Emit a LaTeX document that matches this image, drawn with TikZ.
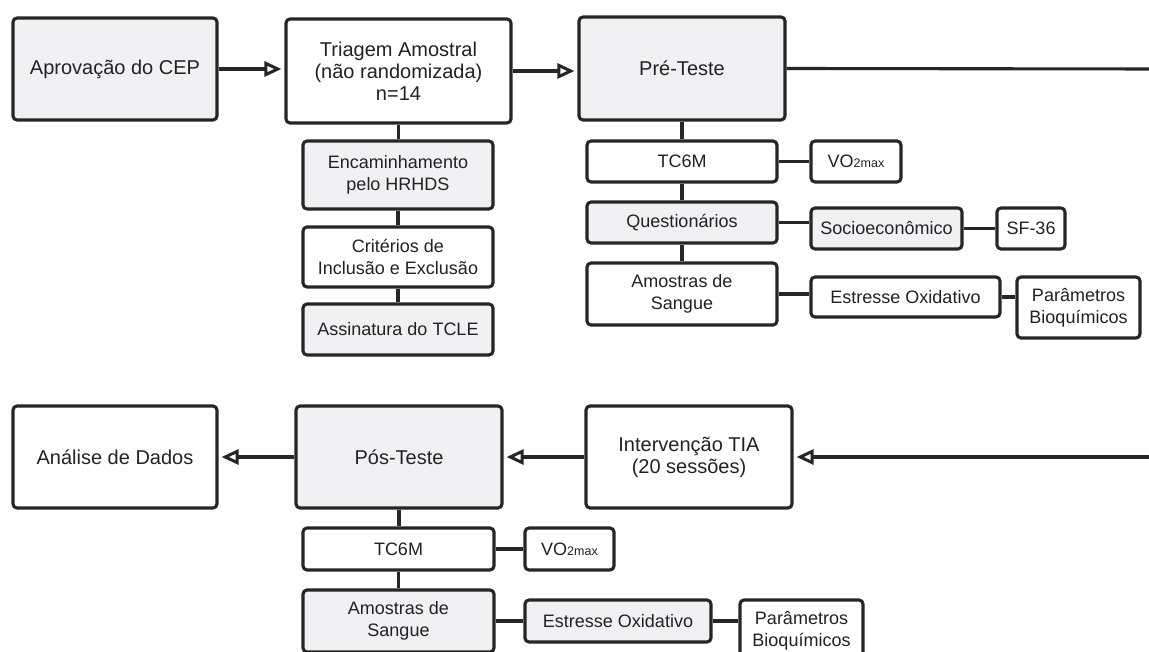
\documentclass[tikz,border=0pt]{standalone}
\usepackage{fontspec}
\setmainfont{Liberation Sans}
\usetikzlibrary{arrows.meta}
\definecolor{edge}{HTML}{262626}
\definecolor{boxgray}{HTML}{F1F1F3}
\definecolor{txt}{HTML}{222222}
\newcommand{\vomax}{VO{\fontsize{12.5}{12.5}\selectfont 2max}}
\begin{document}
\begin{tikzpicture}[x=1pt,y=-1pt,
  box/.style={draw=edge, line width=3.1pt, rounded corners=4pt, text=txt, align=center, inner sep=0pt},
  gbox/.style={box, fill=boxgray},
  wbox/.style={box, fill=white},
  big/.style={font=\fontsize{20}{22}\selectfont},
  small/.style={font=\fontsize{18}{22}\selectfont},
  link/.style={draw=edge, line width=3.1pt},
  arr/.style={link, -{Triangle[open, length=17pt, width=15pt, line width=3pt]}, shorten >=3pt}
]
\useasboundingbox (0,0) rectangle (1149,652);
\clip (0,0) rectangle (1149,652);
\fill[white] (0,0) rectangle (1149,652);

% top row
\node[gbox, big, minimum width=204, minimum height=102] (cep) at (115,69) {Aprovação do CEP};
\node[wbox, big, minimum width=225, minimum height=104] (tri) at (398.5,71) {Triagem Amostral\\(não randomizada)\\n=14};
\node[gbox, big, minimum width=206, minimum height=103] (pre) at (682,68.5) {Pré-Teste};
\coordinate (edgeTop) at (1160,69);

% Triagem column
\node[gbox, small, minimum width=190, minimum height=68] (enc) at (398,175) {Encaminhamento\\pelo HRHDS};
\node[wbox, small, minimum width=190, minimum height=60] (cri) at (398,257) {Critérios de\\Inclusão e Exclusão};
\node[gbox, small, minimum width=190, minimum height=51] (ass) at (398,329.5) {Assinatura do TCLE};

% Pre-Teste column
\node[wbox, small, minimum width=190, minimum height=41] (tc1) at (682,161.5) {TC6M};
\node[wbox, small, minimum width=90, minimum height=41] (vo1) at (856,161.5) {\vomax};
\node[gbox, small, minimum width=190, minimum height=41] (que) at (682,222.5) {Questionários};
\node[gbox, small, minimum width=151, minimum height=41] (soc) at (886.5,228.5) {Socioeconômico};
\node[wbox, small, minimum width=68, minimum height=41] (sf) at (1031,228.5) {SF-36};
\node[wbox, small, minimum width=190, minimum height=62] (am1) at (682,294) {Amostras de\\Sangue};
\node[wbox, small, minimum width=189, minimum height=40] (es1) at (905.5,297) {Estresse Oxidativo};
\node[wbox, small, minimum width=123, minimum height=61] (pa1) at (1078.5,307.5) {Parâmetros\\Bioquímicos};

% bottom row
\node[wbox, big, minimum width=204, minimum height=102] (ana) at (115,457) {Análise de Dados};
\node[gbox, big, minimum width=206, minimum height=102] (pos) at (399,457) {Pós-Teste};
\node[wbox, big, minimum width=206, minimum height=102] (int) at (689,457) {Intervenção TIA\\(20 sessões)};
\coordinate (edgeBot) at (1160,457);

% Pos-Teste column
\node[wbox, small, minimum width=191, minimum height=42] (tc2) at (398.5,549) {TC6M};
\node[wbox, small, minimum width=89, minimum height=42] (vo2) at (569.5,549) {\vomax};
\node[gbox, small, minimum width=191, minimum height=62] (am2) at (398.5,621) {Amostras de\\Sangue};
\node[gbox, small, minimum width=186, minimum height=42] (es2) at (618,621) {Estresse Oxidativo};
\node[wbox, small, minimum width=123, minimum height=61] (pa2) at (801.5,630.5) {Parâmetros\\Bioquímicos};

% arrows top
\draw[arr] (cep.east) -- (cep.east -| tri.west);
\draw[arr] (tri.east) -- (tri.east -| pre.west);
\draw[link] (pre.east) -- (edgeTop);

% top vertical links
\draw[link] (tri.south) -- (tri.south |- enc.north);
\draw[link] (enc.south) -- (enc.south |- cri.north);
\draw[link] (cri.south) -- (cri.south |- ass.north);
\draw[link] (pre.south) -- (pre.south |- tc1.north);
\draw[link] (tc1.south) -- (tc1.south |- que.north);
\draw[link] (que.south) -- (que.south |- am1.north);

% top horizontal links
\draw[link] (tc1.east) -- (tc1.east -| vo1.west);
\draw[link] (que.east) -- (que.east -| soc.west);
\draw[link] (soc.east) -- (soc.east -| sf.west);
\draw[link] (am1.east) -- (am1.east -| es1.west);
\draw[link] (es1.east) -- (es1.east -| pa1.west);

% bottom arrows
\draw[arr] (edgeBot) -- (int.east);
\draw[arr] (int.west) -- (int.west -| pos.east);
\draw[arr] (pos.west) -- (pos.west -| ana.east);

% bottom links
\draw[link] (pos.south) -- (pos.south |- tc2.north);
\draw[link] (tc2.south) -- (tc2.south |- am2.north);
\draw[link] (tc2.east) -- (tc2.east -| vo2.west);
\draw[link] (am2.east) -- (am2.east -| es2.west);
\draw[link] (es2.east) -- (es2.east -| pa2.west);
\end{tikzpicture}
\end{document}
